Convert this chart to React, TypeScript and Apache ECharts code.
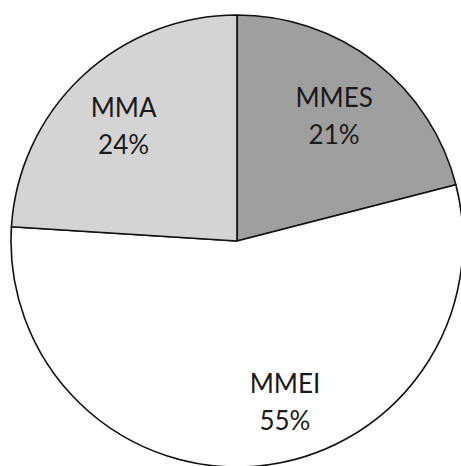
import React, { useEffect, useRef } from "react";
import * as echarts from "echarts";

// Share of each group, clockwise from 12 o'clock
const categories = ["MMES", "MMEI", "MMA"];
const shares = [21, 55, 24];
const sliceColors = ["#9f9f9f", "#ffffff", "#d4d4d4"];

// Nudge of each label away from the default inside spot (px)
const labelNudge: [number, number][] = [
  [26, -34],
  [37, 45],
  [-34, -31],
];

export default function App() {
  const ref = useRef<HTMLDivElement>(null);

  useEffect(() => {
    document.body.style.margin = "0";
    const chart = echarts.init(ref.current!, null, { renderer: "svg" });
    chart.setOption({
      animation: false,
      backgroundColor: "#ffffff",
      series: [
        {
          type: "pie",
          center: [237, 241],
          radius: [0, 226],
          startAngle: 90,
          clockwise: true,
          silent: true,
          itemStyle: { borderColor: "#111111", borderWidth: 1.6 },
          label: {
            show: true,
            position: "inside",
            formatter: (p: any) => `${p.name}\n${p.value}%`,
            fontFamily: "Lato",
            fontSize: 26,
            lineHeight: 37,
            color: "#1a1a1a",
            align: "center",
            verticalAlign: "middle",
          },
          labelLine: { show: false },
          labelLayout: (params: any) => {
            const [dx, dy] = labelNudge[params.dataIndex];
            return { dx, dy };
          },
          emphasis: { disabled: true },
          data: categories.map((name, i) => ({
            name,
            value: shares[i],
            itemStyle: { color: sliceColors[i] },
          })),
        },
      ],
    });
    return () => chart.dispose();
  }, []);

  return (
    <div
      ref={ref}
      style={{ position: "fixed", left: 0, top: 0, width: 461, height: 466 }}
    />
  );
}
